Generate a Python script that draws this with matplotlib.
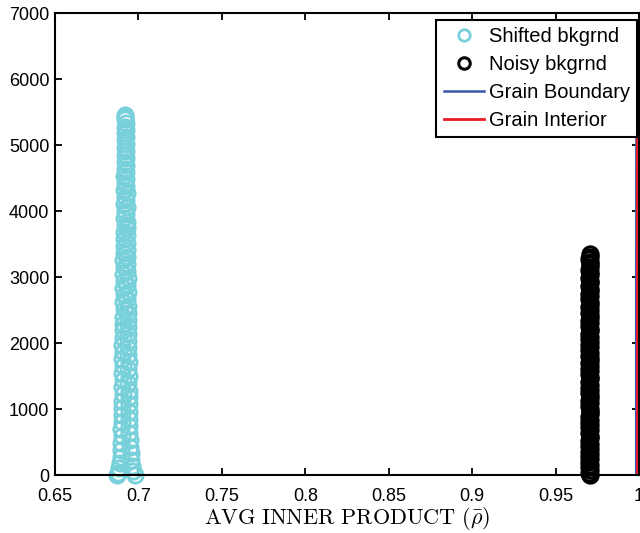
import matplotlib
matplotlib.use("Agg")
from matplotlib import pyplot as plt
from matplotlib.ticker import MultipleLocator

plt.rcParams["font.family"] = ["Liberation Sans", "DejaVu Sans"]
plt.rcParams["mathtext.fontset"] = "cm"

# Shifted background: avg inner product vs. sample index
shifted_x = [0.6872, 0.6978, 0.6880, 0.6970, 0.6886, 0.6964, 0.6890, 0.6958, 0.6894, 0.6954,
             0.6898, 0.6950, 0.6895, 0.6948, 0.6900, 0.6946, 0.6897, 0.6944, 0.6902, 0.6945,
             0.6899, 0.6942, 0.6904, 0.6944, 0.6900, 0.6941, 0.6905, 0.6943, 0.6901, 0.6940,
             0.6906, 0.6942, 0.6902, 0.6939, 0.6907, 0.6941, 0.6903, 0.6938, 0.6908, 0.6940,
             0.6904, 0.6937, 0.6909, 0.6939, 0.6905, 0.6936, 0.6910, 0.6938, 0.6906, 0.6935,
             0.6911, 0.6937, 0.6907, 0.6934, 0.6912, 0.6936, 0.6908, 0.6933, 0.6913, 0.6935,
             0.6909, 0.6932, 0.6914, 0.6934, 0.6910, 0.6931, 0.6915, 0.6933, 0.6911, 0.6930,
             0.6916, 0.6932, 0.6912, 0.6929, 0.6917, 0.6931, 0.6913, 0.6928, 0.6918, 0.6930,
             0.6914, 0.6927, 0.6919, 0.6929, 0.6915, 0.6926, 0.6920, 0.6928, 0.6916, 0.6925,
             0.6921, 0.6927, 0.6917, 0.6925, 0.6922, 0.6926, 0.6918, 0.6924, 0.6921, 0.6925,
             0.6919, 0.6924, 0.6921, 0.6923, 0.6920, 0.6922, 0.6922]
shifted_y = [0, 0, 25, 60, 100, 140, 185, 230, 280, 330,
             380, 430, 480, 535, 590, 640, 695, 750, 800, 855,
             910, 960, 1015, 1070, 1120, 1175, 1230, 1280, 1335, 1390,
             1440, 1495, 1550, 1600, 1655, 1710, 1760, 1815, 1870, 1920,
             1975, 2030, 2080, 2135, 2190, 2240, 2295, 2350, 2400, 2455,
             2510, 2560, 2615, 2670, 2720, 2775, 2830, 2880, 2935, 2990,
             3040, 3095, 3150, 3200, 3255, 3310, 3360, 3415, 3470, 3520,
             3575, 3630, 3680, 3735, 3790, 3840, 3895, 3950, 4000, 4055,
             4110, 4160, 4215, 4270, 4320, 4375, 4430, 4480, 4535, 4590,
             4640, 4695, 4750, 4800, 4855, 4910, 4960, 5015, 5070, 5120,
             5175, 5230, 5280, 5335, 5390, 5430, 5460]

# Noisy background
noisy_x = [0.9704, 0.9700, 0.9708, 0.9702, 0.9706, 0.9701, 0.9707, 0.9703, 0.9705, 0.9700,
           0.9706, 0.9702, 0.9707, 0.9701, 0.9704, 0.9708, 0.9703, 0.9705, 0.9700, 0.9706,
           0.9703, 0.9707, 0.9701, 0.9705, 0.9704, 0.9708, 0.9702, 0.9706, 0.9700, 0.9704,
           0.9707, 0.9703, 0.9705, 0.9701, 0.9706, 0.9702, 0.9708, 0.9704, 0.9700, 0.9705,
           0.9703, 0.9706, 0.9701, 0.9707, 0.9704, 0.9702, 0.9705, 0.9700, 0.9706, 0.9703,
           0.9705, 0.9701, 0.9707, 0.9703, 0.9704, 0.9706, 0.9702, 0.9705, 0.9701, 0.9704,
           0.9706, 0.9703, 0.9705, 0.9702, 0.9704, 0.9706, 0.9703, 0.9705, 0.9702, 0.9704,
           0.9705, 0.9703, 0.9704, 0.9706, 0.9703, 0.9705, 0.9704, 0.9703, 0.9705, 0.9704,
           0.9704, 0.9703, 0.9705, 0.9704]
noisy_y = [0, 35, 75, 115, 155, 195, 235, 275, 315, 355,
           395, 435, 475, 515, 555, 595, 640, 680, 720, 760,
           800, 840, 880, 920, 960, 1000, 1045, 1085, 1125, 1165,
           1205, 1245, 1285, 1325, 1365, 1405, 1450, 1490, 1530, 1570,
           1610, 1650, 1690, 1730, 1770, 1810, 1855, 1895, 1935, 1975,
           2015, 2055, 2095, 2135, 2175, 2215, 2260, 2300, 2340, 2380,
           2420, 2460, 2500, 2540, 2580, 2620, 2665, 2705, 2745, 2785,
           2825, 2865, 2905, 2945, 2985, 3025, 3070, 3110, 3150, 3190,
           3230, 3270, 3310, 3350]

# Grain boundary / grain interior
boundary_x = [0.99835, 0.99835, 0.99838, 0.99850, 0.99858]
boundary_y = [0, 1500, 3100, 6200, 6740]
interior_x = [0.99868, 0.99868]
interior_y = [0, 6545]

CYAN = "#77d0da"
BLUE = "#3a55a8"
RED = "#ed1c24"

fig = plt.figure(figsize=(6.4, 5.33), dpi=100)
axis = fig.add_axes([0.0859, 0.1088, 0.9125, 0.8668])

axis.plot(shifted_x, shifted_y, linestyle="none", marker="o", markersize=11,
          markerfacecolor="none", markeredgecolor=CYAN, markeredgewidth=2.0,
          clip_on=False, label="Shifted bkgrnd")
axis.plot(noisy_x, noisy_y, linestyle="none", marker="o", markersize=11,
          markerfacecolor="none", markeredgecolor="black", markeredgewidth=2.2,
          clip_on=False, label="Noisy bkgrnd")
axis.plot(boundary_x, boundary_y, color=BLUE, linewidth=1.8, label="Grain Boundary")
axis.plot(interior_x, interior_y, color=RED, linewidth=2.0, label="Grain Interior")

axis.set_xlim(0.65, 1.0)
axis.set_ylim(0, 7000)
axis.xaxis.set_major_locator(MultipleLocator(0.05))
axis.yaxis.set_major_locator(MultipleLocator(1000))
axis.set_xticklabels(["{:g}".format(round(t, 2)) for t in axis.get_xticks()])

for spine in axis.spines.values():
    spine.set_linewidth(1.5)

axis.tick_params(axis="both", which="major", direction="in", length=5, width=1.3,
                 top=True, right=True, labelsize=13)
axis.tick_params(axis="x", pad=9)
axis.tick_params(axis="y", pad=4)

axis.set_xlabel(r"$\mathrm{AVG\ INNER\ PRODUCT}\ (\bar{\rho})$", fontsize=16,
                labelpad=0)

legend = axis.legend(loc="upper right", bbox_to_anchor=(0.9966, 0.9848),
                     borderaxespad=0, fontsize=14.5, numpoints=1, markerscale=0.75,
                     handlelength=2.0, handletextpad=0.25, borderpad=0.35,
                     labelspacing=0.45, fancybox=False, framealpha=1)
legend.get_frame().set_edgecolor("black")
legend.get_frame().set_linewidth(1.5)

fig.savefig("out.png", dpi=100)
